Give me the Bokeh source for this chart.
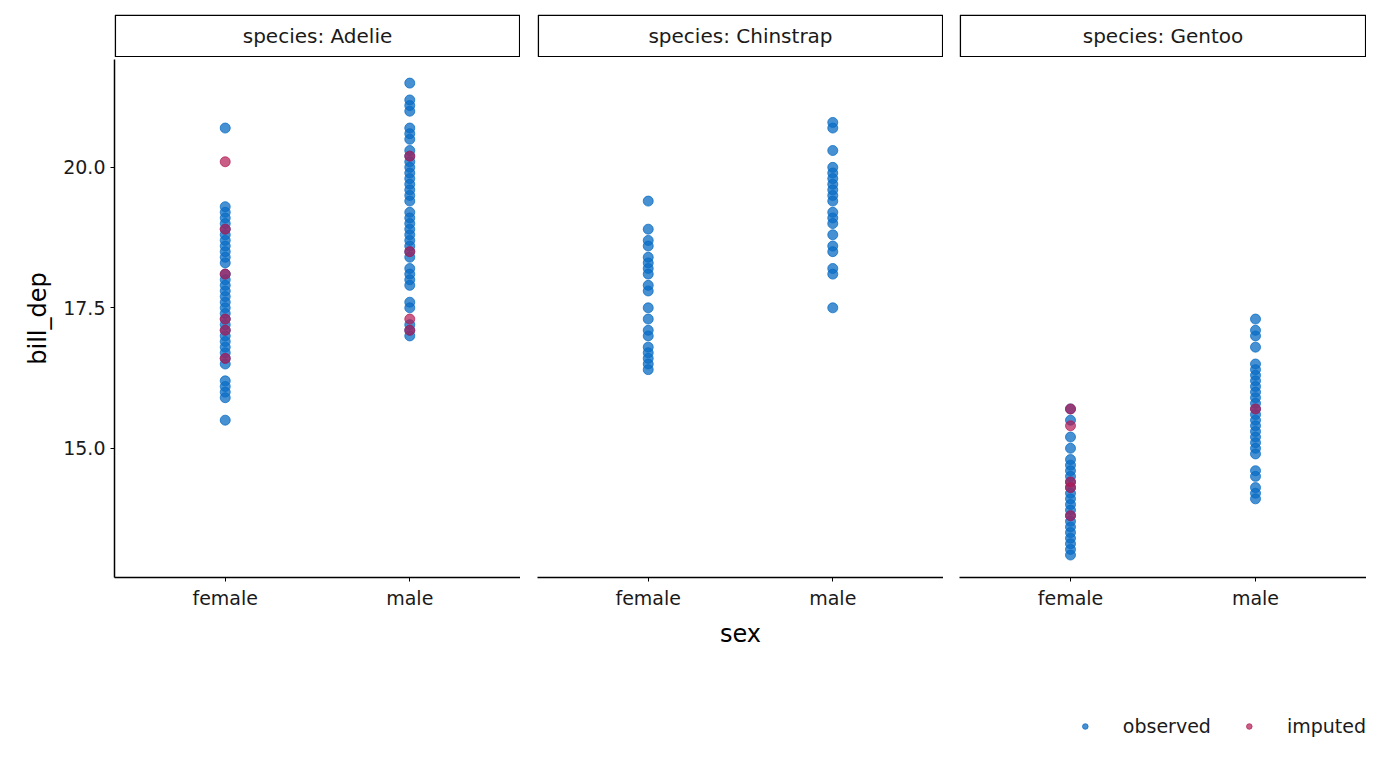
from bokeh.plotting import figure
from bokeh.layouts import row, column
from bokeh.models import Range1d, FixedTicker, Legend, LegendItem
from bokeh.embed import file_html
from bokeh.resources import INLINE
from bokeh.core.properties import value

species = ["Adelie", "Chinstrap", "Gentoo"]
sexes = ["female", "male"]
observed = {
    ("Adelie", "female"): [15.5,15.9,16.0,16.1,16.2,16.5,16.6,16.7,16.8,16.9,17.0,17.1,17.2,17.3,17.4,17.5,17.6,17.7,17.8,17.9,18.0,18.1,18.3,18.4,18.5,18.6,18.7,18.8,18.9,19.0,19.1,19.2,19.3,20.7],
    ("Adelie", "male"): [17.0,17.1,17.2,17.5,17.6,17.9,18.0,18.1,18.2,18.4,18.5,18.6,18.7,18.8,18.9,19.0,19.1,19.2,19.4,19.5,19.6,19.7,19.8,19.9,20.0,20.1,20.2,20.3,20.5,20.6,20.7,21.0,21.1,21.2,21.5],
    ("Chinstrap", "female"): [16.4,16.5,16.6,16.7,16.8,17.0,17.1,17.3,17.5,17.8,17.9,18.1,18.2,18.3,18.4,18.6,18.7,18.9,19.4],
    ("Chinstrap", "male"): [17.5,18.1,18.2,18.5,18.6,18.8,19.0,19.1,19.2,19.4,19.5,19.6,19.7,19.8,19.9,20.0,20.3,20.7,20.8],
    ("Gentoo", "female"): [13.1,13.2,13.3,13.4,13.5,13.6,13.7,13.8,13.9,14.0,14.1,14.2,14.3,14.4,14.5,14.6,14.7,14.8,15.0,15.2,15.5,15.7],
    ("Gentoo", "male"): [14.1,14.2,14.3,14.5,14.6,14.9,15.0,15.1,15.2,15.3,15.4,15.5,15.6,15.7,15.8,15.9,16.0,16.1,16.2,16.3,16.4,16.5,16.8,17.0,17.1,17.3],
}
imputed = {
    ("Adelie", "female"): [20.1,18.9,18.1,17.3,17.1,16.6],
    ("Adelie", "male"): [20.2,18.5,17.3,17.1],
    ("Chinstrap", "female"): [],
    ("Chinstrap", "male"): [],
    ("Gentoo", "female"): [15.7,15.4,14.4,14.3,13.8],
    ("Gentoo", "male"): [15.7],
}
y_ticks = [15.0, 17.5, 20.0]
C_OBS = "#0A6CC4"
C_IMP = "#B21A52"
FONT = "DejaVu Sans"
TXT = "#1a1a1a"

cols = []
borders_left = [114, 17, 16]
frame_w = [406, 406, 407]
for i, sp in enumerate(species):
    strip = figure(frame_width=frame_w[i], frame_height=43, x_range=Range1d(0, 1), y_range=Range1d(0, 1),
                   toolbar_location=None, output_backend="svg", min_border_left=borders_left[i],
                   min_border_right=0, min_border_top=14, min_border_bottom=0, outline_line_color=None)
    strip.axis.visible = False
    strip.grid.visible = False
    strip.quad(left=[0.002], right=[0.998], bottom=[0.02], top=[0.98], fill_color="white", line_color="black", line_width=1.5)
    strip.text(x=[0.5], y=[0.5], text=["species: " + sp], text_align="center", text_baseline="middle",
               text_font=value(FONT), text_font_size="20px", text_color=TXT)

    p = figure(frame_width=frame_w[i], frame_height=518, x_range=Range1d(0.4, 2.6), y_range=Range1d(12.7, 21.92),
               toolbar_location=None, output_backend="svg", min_border_left=borders_left[i],
               min_border_right=0, min_border_top=2, min_border_bottom=110,
               outline_line_color=None)
    p.grid.visible = False
    p.xaxis.ticker = FixedTicker(ticks=[1, 2])
    p.xaxis.major_label_overrides = {1: "female", 2: "male"}
    p.xaxis.minor_tick_line_color = None
    p.xaxis.major_tick_in = 0
    p.xaxis.major_tick_out = 4
    p.xaxis.axis_line_width = 1.5
    p.xaxis.major_label_text_font = FONT
    p.xaxis.major_label_text_font_size = "19px"
    p.xaxis.major_label_text_color = TXT
    p.xaxis.axis_label = "sex" if i == 1 else None
    p.xaxis.axis_label_text_font = FONT
    p.xaxis.axis_label_text_font_size = "24px"
    p.xaxis.axis_label_text_font_style = "normal"
    p.xaxis.axis_label_text_color = "black"
    p.xaxis.axis_label_standoff = 8
    if i == 0:
        p.yaxis.ticker = FixedTicker(ticks=y_ticks)
        p.yaxis.major_label_overrides = {t: f"{t:.1f}" for t in y_ticks}
        p.yaxis.minor_tick_line_color = None
        p.yaxis.major_tick_in = 0
        p.yaxis.major_tick_out = 4
        p.yaxis.axis_line_width = 1.5
        p.yaxis.major_label_text_font = FONT
        p.yaxis.major_label_text_font_size = "19px"
        p.yaxis.major_label_text_color = TXT
        p.yaxis.axis_label = "bill_dep"
        p.yaxis.axis_label_text_font = FONT
        p.yaxis.axis_label_text_font_size = "24px"
        p.yaxis.axis_label_text_font_style = "normal"
        p.yaxis.axis_label_text_color = "black"
        p.yaxis.axis_label_standoff = 8
    else:
        p.yaxis.visible = False
    ox, oy, ix, iy = [], [], [], []
    for j, sx in enumerate(sexes):
        ox += [j + 1] * len(observed[(sp, sx)]); oy += observed[(sp, sx)]
        ix += [j + 1] * len(imputed[(sp, sx)]); iy += imputed[(sp, sx)]
    p.scatter(ox, oy, size=10, fill_color=C_OBS, line_color=C_OBS, fill_alpha=0.75, line_alpha=0.75)
    p.scatter(ix, iy, size=10, fill_color=C_IMP, line_color=C_IMP, fill_alpha=0.7, line_alpha=0.7)
    cols.append(column(strip, p, spacing=0))

# legend strip: proxy renderers lie outside the visible range
lf = figure(frame_width=1359, frame_height=50, x_range=Range1d(100, 101), y_range=Range1d(100, 101),
            toolbar_location=None, output_backend="svg", min_border_left=7, min_border_right=0,
            min_border_top=0, min_border_bottom=0, outline_line_color=None)
lf.axis.visible = False
lf.grid.visible = False
a = lf.scatter([0], [0], size=10, fill_color=C_OBS, line_color=C_OBS, fill_alpha=0.75, line_alpha=0.75)
b = lf.scatter([0], [0], size=10, fill_color=C_IMP, line_color=C_IMP, fill_alpha=0.7, line_alpha=0.7)
leg = Legend(items=[LegendItem(label="observed", renderers=[a]), LegendItem(label="imputed", renderers=[b])],
             orientation="horizontal", location="bottom_right", border_line_color=None, background_fill_alpha=0,
             label_text_font=FONT, label_text_font_size="19px", label_text_color=TXT,
             glyph_width=14, glyph_height=20, spacing=31, label_standoff=31, margin=0, padding=0)
lf.add_layout(leg, "center")

layout = column(row(*cols, spacing=0), lf, spacing=0)
open("out.html", "w").write(file_html(layout, INLINE))
